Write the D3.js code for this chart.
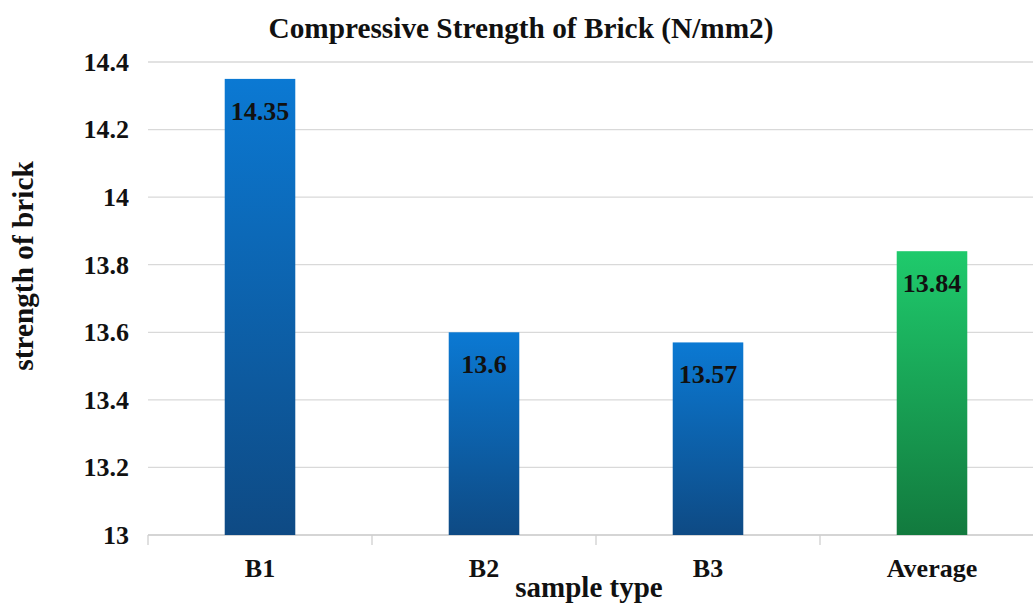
<!DOCTYPE html>
<html>
<head>
<meta charset="utf-8">
<script src="https://cdn.jsdelivr.net/npm/d3@7/dist/d3.min.js"></script>
<style>
  html, body { margin: 0; padding: 0; background: #fff; }
  svg { display: block; }
</style>
</head>
<body>
<svg id="chart" width="1033" height="605"></svg>
<script>
// Sample categories and measured compressive strength (N/mm2)
const categories = ["B1", "B2", "B3", "Average"];
const strengths = [14.35, 13.6, 13.57, 13.84];
const yTicks = [13, 13.2, 13.4, 13.6, 13.8, 14, 14.2, 14.4];
const yTickLabels = ["13", "13.2", "13.4", "13.6", "13.8", "14", "14.2", "14.4"];

const FONT = "'Liberation Serif', 'Times New Roman', serif";

const svg = d3.select("#chart");
const margin = { left: 148, top: 62, right: 1044, bottom: 535 };

const x = d3.scaleBand()
  .domain(categories)
  .range([margin.left, margin.right])
  .paddingInner(0.685)
  .paddingOuter(0.3425);

const y = d3.scaleLinear()
  .domain([13, 14.4])
  .range([margin.bottom, margin.top]);

// Apply the common bold serif text style
function styleText(sel, size) {
  return sel.style("font-family", FONT)
    .style("font-weight", "bold")
    .style("font-size", size + "px")
    .style("fill", "#111");
}

// Vertical gradients per bar
const defs = svg.append("defs");
function grad(id, top, bottom) {
  const g = defs.append("linearGradient").attr("id", id)
    .attr("x1", 0).attr("y1", 0).attr("x2", 0).attr("y2", 1);
  g.append("stop").attr("offset", "0%").attr("stop-color", top);
  g.append("stop").attr("offset", "100%").attr("stop-color", bottom);
}
grad("blueGrad", "#0b79d3", "#0e4a84");
grad("greenGrad", "#1fca6c", "#127a3e");

// Horizontal gridlines
svg.append("g")
  .selectAll("line")
  .data(yTicks)
  .join("line")
  .attr("x1", margin.left)
  .attr("x2", margin.right)
  .attr("y1", d => y(d))
  .attr("y2", d => y(d))
  .attr("stroke", "#d9d9d9")
  .attr("stroke-width", 1.3);

// Y axis labels
const yAxis = d3.axisLeft(y)
  .tickValues(yTicks)
  .tickFormat((d, i) => yTickLabels[i])
  .tickSize(0)
  .tickPadding(19);
const yg = svg.append("g").attr("transform", `translate(${margin.left},0)`).call(yAxis);
yg.select(".domain").remove();
styleText(yg.selectAll("text"), 26);

// X axis baseline with category separators
const xg = svg.append("g").attr("transform", `translate(0,${margin.bottom})`);
xg.append("line")
  .attr("x1", margin.left).attr("x2", margin.right)
  .attr("stroke", "#d0d0d0").attr("stroke-width", 1.3);
const step = x.step();
const bounds = d3.range(categories.length + 1).map(i => margin.left + i * step);
xg.selectAll(".sep")
  .data(bounds)
  .join("line")
  .attr("class", "sep")
  .attr("x1", d => d).attr("x2", d => d)
  .attr("y1", 0).attr("y2", 10)
  .attr("stroke", "#d0d0d0").attr("stroke-width", 1.3);
styleText(xg.selectAll(".cat")
  .data(categories)
  .join("text")
  .attr("class", "cat")
  .attr("x", d => x(d) + x.bandwidth() / 2)
  .attr("y", 42)
  .attr("text-anchor", "middle")
  .text(d => d), 26);

// Bars
const data = categories.map((c, i) => ({ c, v: strengths[i] }));
svg.append("g")
  .selectAll("rect")
  .data(data)
  .join("rect")
  .attr("x", d => x(d.c))
  .attr("width", x.bandwidth())
  .attr("y", d => y(d.v))
  .attr("height", d => y(13) - y(d.v))
  .attr("fill", d => d.c === "Average" ? "url(#greenGrad)" : "url(#blueGrad)");

// Value labels inside bars
styleText(svg.append("g")
  .selectAll("text")
  .data(data)
  .join("text")
  .attr("x", d => x(d.c) + x.bandwidth() / 2)
  .attr("y", d => y(d.v) + 41)
  .attr("text-anchor", "middle")
  .text(d => String(d.v)), 26);

// Titles
styleText(svg.append("text")
  .attr("x", 521).attr("y", 38)
  .attr("text-anchor", "middle")
  .text("Compressive Strength of Brick (N/mm2)"), 29.3);

styleText(svg.append("text")
  .attr("transform", "translate(33,266) rotate(-90)")
  .attr("text-anchor", "middle")
  .text("strength of brick"), 29.3);

styleText(svg.append("text")
  .attr("x", 589).attr("y", 597)
  .attr("text-anchor", "middle")
  .text("sample type"), 29);
</script>
</body>
</html>
